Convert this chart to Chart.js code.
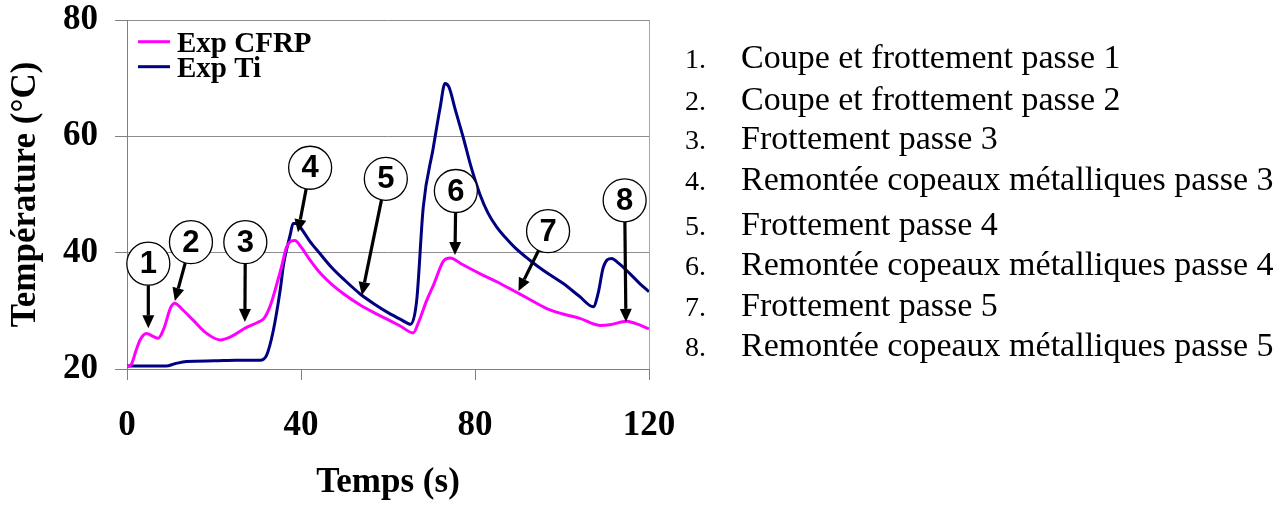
<!DOCTYPE html>
<html>
<head>
<meta charset="utf-8">
<script src="https://cdn.jsdelivr.net/npm/chart.js@4"></script>
<style>
  html, body { margin: 0; padding: 0; background: #fff; }
  #wrap { position: relative; width: 1288px; height: 506px; overflow: hidden; }
  #chart { position: absolute; left: 0; top: 0; }
  .step {
    position: absolute; left: 685px;
    font-family: "Liberation Serif", "Times New Roman", serif;
    font-size: 34px; line-height: 34px; white-space: nowrap; color: #000;
  }
  .step .num { display: inline-block; width: 56px; font-size: 28px; }
</style>
</head>
<body>
<div id="wrap">
  <canvas id="chart" width="700" height="506"></canvas>
  <div id="steps"></div>
</div>
<script>
// temperature records (time in s, temperature in °C)
const cfrpTime = [0, 1, 2, 3, 4.5, 6, 7.2, 8.5, 10, 11, 12.5, 15.2, 18, 21.4, 24, 27.1, 30, 31.5, 33, 34.4,
  35.5, 36.7, 38.6, 40, 42, 44.4, 47, 50, 53.6, 57, 60, 63, 65.8, 67, 68.9, 70.5, 72.7, 74.3, 77, 81.1,
  85, 88.8, 92, 96.5, 100, 104.1, 108.7, 111, 114.9, 117, 120];
const cfrpTemp = [20.4, 20.8, 23, 25, 26.1, 25.6, 25.3, 27, 30.5, 31.3, 30.4, 28.4, 26.3, 25, 25.6, 27, 28, 28.7, 31, 34.5,
  37.5, 41, 42.1, 41, 38.8, 36.5, 34.6, 32.8, 31.0, 29.6, 28.5, 27.3, 26.2, 28, 31.8, 34.5, 38.5, 39.1, 38, 36.4,
  35, 33.5, 32.2, 30.4, 29.5, 28.7, 27.5, 27.6, 28.2, 27.8, 26.9];

const tiTime = [0, 5, 9, 11, 13.7, 20, 25, 30.6, 32.1, 33.6, 35.2, 36, 37.5, 38.2, 39, 40, 42, 44.4, 47, 50,
  53.6, 57, 60, 63, 65.2, 66.6, 68.1, 70.4, 72, 73.1, 74, 75.5, 77.3, 79, 81.1, 83, 85, 87, 89, 92.6, 96,
  100.3, 104, 107.2, 108.3, 109.5, 111.4, 113, 115.6, 118, 120];
const tiTemp = [20.5, 20.5, 20.5, 20.9, 21.3, 21.4, 21.5, 21.5, 22.4, 26.5, 33.5, 38, 43, 45, 45, 44.2, 42, 39.8, 37.5, 35.3,
  32.9, 31.1, 29.7, 28.5, 27.7, 31.8, 47.8, 58, 65, 69.1, 68.5, 64.5, 59.8, 55, 50.1, 46.8, 44.4, 42.6, 41.0, 38.7, 36.8,
  34.7, 32.5, 30.7, 33, 37.5, 39, 38.2, 36.4, 34.6, 33.3];

const seriesNames = ['Exp CFRP', 'Exp Ti'];
const seriesColors = ['#ff00ff', '#000080'];
const xTicks = [0, 40, 80, 120];
const yTicks = [20, 40, 60, 80];

// numbered events: circle centre and arrow tip, in (s, °C)
const eventNo = [1, 2, 3, 4, 5, 6, 7, 8];
const eventCentre = [[4.9, 38.1], [14.7, 41.8], [27.2, 41.8], [42.1, 54.6], [59.5, 52.7], [75.6, 50.6], [96.8, 43.7], [114.4, 49.0]];
const eventTip = [[4.9, 27.0], [11.0, 31.7], [27.1, 28.1], [39.3, 43.5], [54.0, 32.7], [75.4, 39.6], [90.0, 33.4], [114.7, 28.1]];
const eventLabels = [
  'Coupe et frottement passe 1',
  'Coupe et frottement passe 2',
  'Frottement passe 3',
  'Remontée copeaux métalliques passe 3',
  'Frottement passe 4',
  'Remontée copeaux métalliques passe 4',
  'Frottement passe 5',
  'Remontée copeaux métalliques passe 5'
];

// list of events on the right (row baselines in px)
const rowBaseline = [68, 110, 149, 190, 235, 275, 316, 356];
const steps = document.getElementById('steps');
eventLabels.forEach((txt, i) => {
  const row = document.createElement('div');
  row.className = 'step';
  row.style.top = (rowBaseline[i] - 28.5) + 'px';
  const num = document.createElement('span');
  num.className = 'num';
  num.textContent = eventNo[i] + '.';
  const lab = document.createElement('span');
  lab.textContent = txt;
  row.appendChild(num);
  row.appendChild(lab);
  steps.appendChild(row);
});

const serif = '"Liberation Serif", "Times New Roman", serif';
const axisFont = { family: serif, size: 35, weight: 'bold' };

const overlay = {
  id: 'overlay',
  afterDatasetsDraw(chart) {
    const { ctx, scales: { x, y } } = chart;
    ctx.save();

    // legend inside the plot
    ctx.font = 'bold 29px ' + serif;
    ctx.textBaseline = 'alphabetic';
    ctx.textAlign = 'left';
    seriesNames.forEach((name, i) => {
      const ly = 41.7 + i * 25;
      ctx.strokeStyle = seriesColors[i];
      ctx.lineWidth = 3;
      ctx.beginPath();
      ctx.moveTo(138, ly);
      ctx.lineTo(170, ly);
      ctx.stroke();
      ctx.fillStyle = '#000';
      ctx.fillText(name, 177, ly + 10);
    });

    // circled numbers with arrows
    const r = 21.5;
    eventNo.forEach((n, i) => {
      const cx = x.getPixelForValue(eventCentre[i][0]);
      const cy = y.getPixelForValue(eventCentre[i][1]);
      const tx = x.getPixelForValue(eventTip[i][0]);
      const ty = y.getPixelForValue(eventTip[i][1]);
      const dx = tx - cx, dy = ty - cy;
      const len = Math.hypot(dx, dy);
      const ux = dx / len, uy = dy / len;
      const head = 13, half = 6;
      const bx = tx - ux * head, by = ty - uy * head;

      ctx.strokeStyle = '#000';
      ctx.fillStyle = '#000';
      ctx.lineWidth = 3.2;
      ctx.beginPath();
      ctx.moveTo(cx + ux * r, cy + uy * r);
      ctx.lineTo(bx, by);
      ctx.stroke();
      ctx.beginPath();
      ctx.moveTo(tx, ty);
      ctx.lineTo(bx - uy * half, by + ux * half);
      ctx.lineTo(bx + uy * half, by - ux * half);
      ctx.closePath();
      ctx.fill();

      ctx.beginPath();
      ctx.arc(cx, cy, r, 0, Math.PI * 2);
      ctx.fillStyle = '#fff';
      ctx.fill();
      ctx.lineWidth = 1.3;
      ctx.stroke();

      ctx.fillStyle = '#000';
      ctx.font = 'bold 31px "Liberation Sans", Arial, sans-serif';
      ctx.textAlign = 'center';
      ctx.textBaseline = 'middle';
      ctx.fillText(String(n), cx, cy + 1);
    });
    ctx.restore();
  }
};

new Chart(document.getElementById('chart'), {
  type: 'line',
  data: {
    datasets: [
      {
        label: seriesNames[0],
        data: cfrpTime.map((t, i) => ({ x: t, y: cfrpTemp[i] })),
        borderColor: seriesColors[0],
        borderWidth: 3,
        pointRadius: 0,
        cubicInterpolationMode: 'monotone'
      },
      {
        label: seriesNames[1],
        data: tiTime.map((t, i) => ({ x: t, y: tiTemp[i] })),
        borderColor: seriesColors[1],
        borderWidth: 3,
        pointRadius: 0,
        cubicInterpolationMode: 'monotone'
      }
    ]
  },
  options: {
    responsive: false,
    animation: false,
    devicePixelRatio: 1,
    layout: { padding: { left: 0, top: 20, right: 51, bottom: 0 } },
    plugins: { legend: { display: false }, tooltip: { enabled: false } },
    scales: {
      x: {
        type: 'linear',
        min: 0,
        max: 120,
        afterBuildTicks: s => { s.ticks = xTicks.map(v => ({ value: v })); },
        afterFit: s => { s.height = 137; s.paddingLeft = 0; s.paddingRight = 0; },
        grid: {
          color: c => (c.tick && c.tick.value === 120) ? '#a6a6a6' : 'rgba(0,0,0,0)',
          tickColor: '#808080',
          tickLength: 11,
          lineWidth: 1
        },
        border: { color: '#808080', width: 1 },
        ticks: { font: axisFont, color: '#000', padding: 25, maxRotation: 0, autoSkip: false },
        title: { display: true, text: 'Temps (s)', font: axisFont, color: '#000', padding: { top: 0, bottom: 2 } }
      },
      y: {
        min: 20,
        max: 80,
        afterBuildTicks: s => { s.ticks = yTicks.map(v => ({ value: v })); },
        afterFit: s => { s.width = 127; s.paddingTop = 0; s.paddingBottom = 0; },
        grid: { color: '#8c8c8c', tickColor: '#808080', tickLength: 12, lineWidth: 1 },
        border: { color: '#808080', width: 1 },
        ticks: { font: axisFont, color: '#000', padding: 17 },
        title: { display: true, text: 'Température (°C)', font: axisFont, color: '#000', padding: { top: 5, bottom: 0 } }
      }
    }
  },
  plugins: [overlay]
});
</script>
</body>
</html>
